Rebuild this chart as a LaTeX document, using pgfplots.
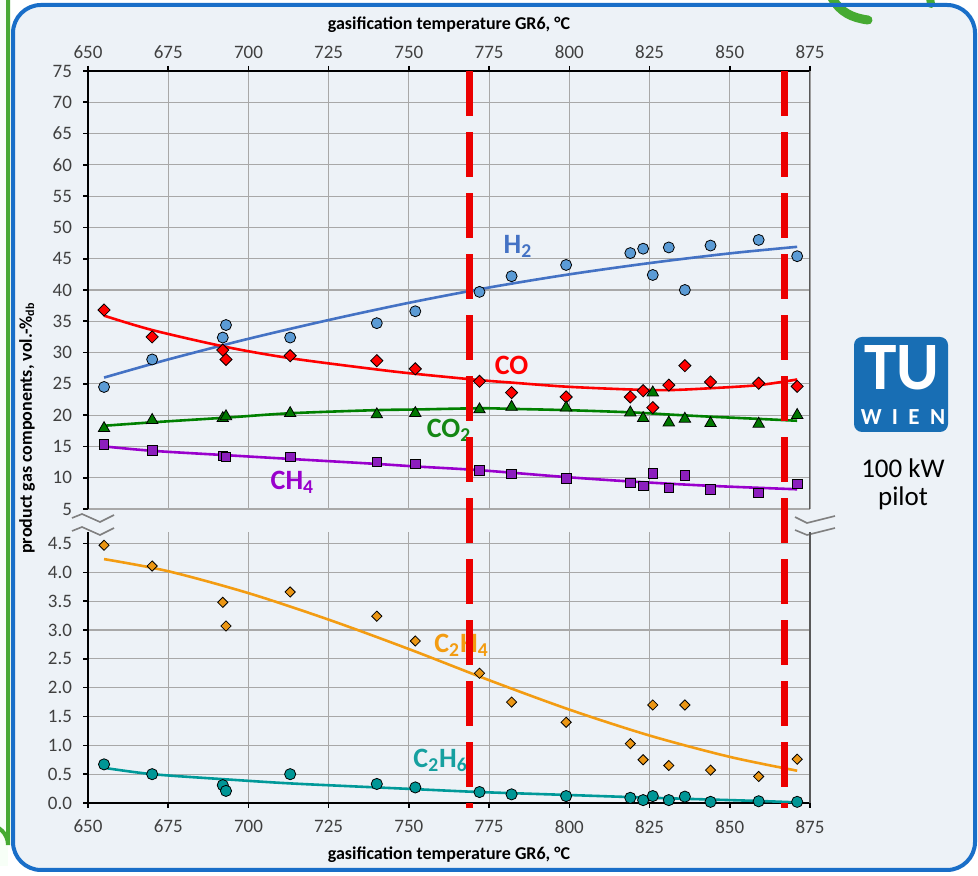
\documentclass[border=0pt]{standalone}
\usepackage{fontspec}
\setmainfont{Carlito}
\usepackage{graphicx}
\usepackage{pgfplots}
\pgfplotsset{compat=1.18}
\definecolor{bgpanel}{RGB}{237,242,247}
\definecolor{bordblue}{RGB}{25,110,200}
\definecolor{grn}{RGB}{70,170,50}
\definecolor{gridc}{RGB}{168,168,168}
\definecolor{tickc}{RGB}{64,64,64}
\definecolor{h2line}{RGB}{68,114,196}
\definecolor{h2fill}{RGB}{91,155,213}
\definecolor{h2lab}{RGB}{68,114,196}
\definecolor{coline}{RGB}{255,0,0}
\definecolor{co2line}{RGB}{0,128,0}
\definecolor{co2fill}{RGB}{0,120,0}
\definecolor{co2lab}{RGB}{20,135,20}
\definecolor{ch4line}{RGB}{153,0,204}
\definecolor{ch4fill}{RGB}{140,30,190}
\definecolor{c2h4line}{RGB}{243,156,18}
\definecolor{c2h4fill}{RGB}{235,150,20}
\definecolor{c2h6line}{RGB}{0,153,153}
\definecolor{c2h6fill}{RGB}{0,150,150}
\definecolor{c2h6lab}{RGB}{22,160,160}
\definecolor{tublue}{RGB}{24,110,180}
\definecolor{vred}{RGB}{235,0,0}
\pgfplotsset{
  base/.style={
    scale only axis, width=361pt,
    xmin=650, xmax=875, xtick={650,675,...,875},
    grid=major, grid style={gridc, line width=0.6pt},
    axis line style={-, black, line width=1.1pt},
    tick align=outside, major tick length=2.5pt,
    tick style={black, line width=0.8pt},
    tick label style={font=\fontsize{9.5}{11}\selectfont, text=tickc},
    yticklabel style={xshift=-2pt},
    /pgf/number format/assume math mode=true,
    label style={font=\bfseries\fontsize{9}{10}\selectfont},
  },
  trend/.style={smooth, no marks, line width=1.3pt},
  mk/.style={only marks, mark options={draw=black, line width=0.5pt}},
}
\newcommand{\lab}{\bfseries\fontsize{14}{16}\selectfont}
\begin{document}
\begin{tikzpicture}
\useasboundingbox (0,0) rectangle (489pt,438pt);
\begin{scope}[x=0.5pt,y=-0.5pt,shift={(0pt,438pt)}]
  \fill[white] (0,0) rectangle (978,876);
  \fill[green!3!white] (0,0) rectangle (8,866);
  \draw[grn, line width=2pt] (8,-5) -- (8,845) arc[start angle=0, end angle=-90, radius=20];
  \fill[bgpanel, rounded corners=14pt] (13,5) rectangle (975,870);
  \draw[grn, line width=4.5pt, line cap=round] (832,-2) .. controls (840,12) and (852,18) .. (868,20);
  \draw[grn, line width=4pt, line cap=round] (930,-2) -- (931,4);
  \draw[bordblue, line width=2pt, rounded corners=14pt] (13,5) rectangle (975,870);
  % axis break marks
  \fill[bgpanel] (72,512) rectangle (114,536);
  \draw[gray, line width=0.8pt] (72,518) -- (82,514) -- (100,522) -- (114,515);
  \draw[gray, line width=0.8pt] (72,531) -- (82,527) -- (100,535) -- (114,528);
  \fill[bgpanel] (795,512) rectangle (835,536);
  \draw[gray, line width=0.8pt] (795,517) -- (807,523) -- (835,516);
  \draw[gray, line width=0.8pt] (795,530) -- (807,535) -- (835,528);
  % logo
  \fill[tublue, rounded corners=4pt] (854,337) rectangle (948,432);
  \node[text=white, inner sep=0pt] at (902,368) {\resizebox{37.5pt}{22pt}{\bfseries TU}};
  \node[text=white, inner sep=0pt, font=\bfseries\fontsize{11.5}{11.5}\selectfont] at (903,417) {W\hspace{0.45em}I\hspace{0.45em}E\hspace{0.45em}N};
  \node[font=\fontsize{13.5}{15}\selectfont, align=center, text=black] at (903,484) {100 kW\\[-1pt]pilot};
  \node[rotate=90, font=\bfseries\fontsize{9}{10}\selectfont] at (27,428) {product gas components, vol.-\%\textsubscript{db}};
\end{scope}

% upper axis
\begin{axis}[base, at={(44pt,183.5pt)}, anchor=south west, height=219pt,
  axis x line*=top, axis y line*=left,
  ymin=5, ymax=75, ytick={5,10,...,75},
  xlabel={gasification temperature GR6, °C}]
  \draw[gray!70!black, line width=0.7pt] (rel axis cs:1,-0.015) -- (rel axis cs:1,1);
  % trends
  \addplot[trend, h2line] coordinates {(655,26.0)(675,28.9)(700,32.2)(725,35.2)(750,37.95)(775,40.4)(800,42.5)(825,44.3)(850,45.85)(871,46.9)};
  \addplot[trend, coline] coordinates {(655,35.9)(670,33.6)(693,30.9)(713,29.1)(740,27.3)(752,26.6)(772,25.6)(782,25.2)(799,24.55)(819,24.1)(831,24.0)(844,24.3)(859,24.8)(871,25.7)};
  \addplot[trend, co2line] coordinates {(655,18.3)(670,18.85)(693,19.6)(713,20.3)(740,20.8)(752,20.9)(772,21.1)(782,21.0)(799,20.8)(819,20.45)(831,20.1)(844,19.75)(859,19.4)(871,19.1)};
  \addplot[trend, ch4line] coordinates {(655,15.0)(670,14.3)(693,13.6)(713,13.0)(740,12.2)(752,11.8)(772,11.2)(799,10.1)(819,9.4)(844,8.7)(871,8.15)};
  % markers
  \addplot[mk, mark=*, mark size=2.75pt, mark options={fill=h2fill}] coordinates {(655,24.5)(670,28.9)(692,32.4)(693,34.4)(713,32.4)(740,34.7)(752,36.6)(772,39.7)(782,42.2)(799,44.0)(819,45.9)(823,46.6)(826,42.4)(831,46.8)(836,40.0)(844,47.1)(859,48.0)(871,45.4)};
  \addplot[mk, mark=square*, mark size=2.15pt, mark options={fill=coline, rotate=45}] coordinates {(655,36.8)(670,32.5)(692,30.4)(693,28.9)(713,29.5)(740,28.7)(752,27.4)(772,25.4)(782,23.6)(799,22.9)(819,22.9)(823,23.9)(826,21.2)(831,24.8)(836,27.9)(844,25.3)(859,25.1)(871,24.6)};
  \addplot[mk, mark=triangle*, mark size=3.3pt, mark options={fill=co2fill}] coordinates {(655,17.9)(670,19.2)(692,19.5)(693,19.8)(713,20.3)(740,20.1)(752,20.3)(772,20.9)(782,21.3)(799,21.2)(819,20.4)(823,19.5)(826,23.6)(831,18.8)(836,19.4)(844,18.7)(859,18.6)(871,20.0)};
  \addplot[mk, mark=square*, mark size=2.4pt, mark options={fill=ch4fill}] coordinates {(655,15.3)(670,14.4)(692,13.5)(693,13.3)(713,13.3)(740,12.5)(752,12.2)(772,11.2)(782,10.6)(799,9.9)(819,9.2)(823,8.7)(826,10.7)(831,8.4)(836,10.4)(844,8.1)(859,7.6)(871,9.0)};
  \node[text=h2lab, font=\lab] at (axis cs:784,47.0) {H\textsubscript{2}};
  \node[text=coline, font=\lab] at (axis cs:782,27.9) {CO};
  \node[text=co2lab, font=\lab] at (axis cs:762.5,17.6) {CO\textsubscript{2}};
  \node[text=ch4line, font=\lab] at (axis cs:713.7,9.3) {CH\textsubscript{4}};
\end{axis}

% lower axis
\begin{axis}[base, at={(44pt,36.5pt)}, anchor=south west, height=135.5pt,
  axis x line*=bottom, axis y line*=left, clip=false,
  ymin=0, ymax=4.7, ytick={0,0.5,...,4.5},
  yticklabel style={/pgf/number format/.cd, fixed, fixed zerofill, precision=1},
  xticklabel shift=2.5pt,
  xlabel={gasification temperature GR6, °C}]
  \draw[gray!70!black, line width=0.7pt] (rel axis cs:1,0) -- (rel axis cs:1,1);
  \addplot[trend, c2h4line] coordinates {(655,4.23)(675,4.02)(700,3.64)(725,3.18)(750,2.67)(775,2.13)(800,1.62)(825,1.17)(850,0.80)(871,0.56)};
  \addplot[trend, c2h6line] coordinates {(655,0.61)(670,0.50)(693,0.41)(713,0.34)(740,0.27)(752,0.24)(772,0.19)(799,0.14)(826,0.09)(859,0.035)(871,0.01)};
  \addplot[mk, mark=square*, mark size=1.8pt, mark options={fill=c2h4fill, rotate=45}] coordinates {(655,4.47)(670,4.11)(692,3.48)(693,3.07)(713,3.66)(740,3.24)(752,2.81)(772,2.25)(782,1.75)(799,1.40)(819,1.03)(823,0.75)(826,1.70)(831,0.65)(836,1.70)(844,0.57)(859,0.46)(871,0.76)};
  \addplot[mk, mark=*, mark size=2.8pt, mark options={fill=c2h6fill}] coordinates {(655,0.67)(670,0.50)(692,0.31)(693,0.21)(713,0.50)(740,0.33)(752,0.27)(772,0.19)(782,0.15)(799,0.12)(819,0.09)(823,0.05)(826,0.12)(831,0.05)(836,0.11)(844,0.02)(859,0.03)(871,0.02)};
  \node[text=c2h4line, font=\lab] at (axis cs:766.4,2.74) {C\textsubscript{2}H\textsubscript{4}};
  \node[text=c2h6lab, font=\lab] at (axis cs:759.9,0.74) {C\textsubscript{2}H\textsubscript{6}};
  \addplot[vred, line width=3.5pt, dash pattern=on 22.5pt off 8pt] coordinates {(769,12.69) (769,-0.09)};
  \addplot[vred, line width=3.5pt, dash pattern=on 22.5pt off 8pt] coordinates {(867,12.69) (867,-0.09)};
\end{axis}
\end{tikzpicture}
\end{document}
